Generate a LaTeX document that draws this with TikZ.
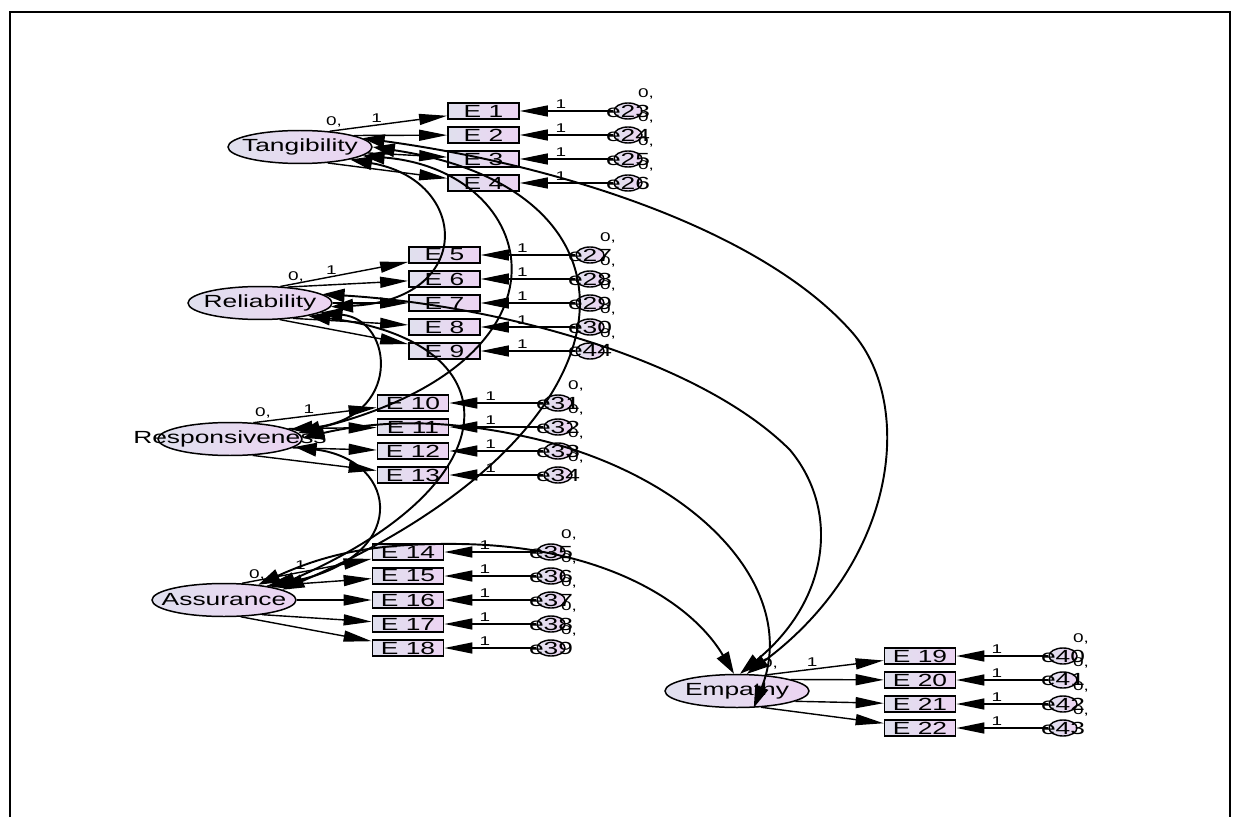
\documentclass[tikz,border=0pt]{standalone}
\usepackage{fontspec}
\setmainfont{Liberation Sans}[FakeStretch=1.5]
\usetikzlibrary{shapes.geometric}
\usetikzlibrary{arrows.meta}
\definecolor{amosL}{RGB}{224,224,238}
\definecolor{amosR}{RGB}{236,212,242}

\begin{document}
\begin{tikzpicture}[x=0.02cm, y=-0.02cm,
    ftxt/.style={font=\fontsize{10}{12}\selectfont, inner sep=0pt},
    fac/.style={ellipse, draw, line width=0.85pt, left color=amosL, right color=amosR, minimum width=2.88cm, minimum height=0.66cm, inner sep=0pt},
    ind/.style={rectangle, draw, line width=1pt, left color=amosL, right color=amosR, minimum width=1.42cm, minimum height=0.32cm, inner sep=0pt, font=\fontsize{10}{12}\selectfont},
    err/.style={ellipse, draw, line width=0.8pt, left color=amosL, right color=amosR, minimum width=0.56cm, minimum height=0.32cm, inner sep=0pt},
    lbl/.style={font=\fontsize{7.2}{8}\selectfont, inner sep=1pt},
    loading/.style={line width=0.8pt, -{Triangle[length=0.56cm,width=0.22cm]}},
    covar/.style={line width=1.1pt, {Triangle[length=0.44cm,width=0.27cm]}-{Triangle[length=0.44cm,width=0.27cm]}}]
    \useasboundingbox (0,0) rectangle (1239,817);
    \draw[line width=1pt] (10,817) -- (10,12) -- (1230,12) -- (1230,817);

    % Tangibility
    \node[fac, label={[ftxt]center:Tangibility}] (tang) at (300,147) {};
    \node[lbl] at ([shift={(34,-25)}]tang) {0,};
    \foreach \i/\e/\y in {1/23/111, 2/24/135, 3/25/159, 4/26/183}{
      \node[ind] (E\i) at (483.5,\y) {E \i};
      \node[err, label={[ftxt]center:e\e}] (e\e) at (628,\y) {};
      \node[lbl] at ([shift={(18,-17)}]e\e) {0,};
      \draw[loading] (e\e) -- node[lbl, above, pos=.56] {1} (E\i);
    }
    \draw[loading] (tang.28) -- node[lbl, above, pos=.4] {1} (E1);
    \foreach \i/\a in {2/12, 3/-5, 4/-30} \draw[loading] (tang.\a) -- (E\i);

    % Reliability
    \node[fac, label={[ftxt]center:Reliability}] (rel) at (260,303) {};
    \node[lbl] at ([shift={(36,-26)}]rel) {0,};
    \foreach \i/\e/\y in {5/27/255, 6/28/279, 7/29/303, 8/30/327, 9/44/351}{
      \node[ind] (E\i) at (444.5,\y) {E \i};
      \node[err, label={[ftxt]center:e\e}] (e\e) at (590,\y) {};
      \node[lbl] at ([shift={(18,-17)}]e\e) {0,};
      \draw[loading] (e\e) -- node[lbl, above, pos=.56] {1} (E\i);
    }
    \draw[loading] (rel.39) -- node[lbl, above, pos=.4] {1} (E5);
    \foreach \i/\a in {6/30, 7/0, 8/-25, 9/-40} \draw[loading] (rel.\a) -- (E\i);

    % Responsiveness
    \node[fac, label={[ftxt]center:Responsiveness}] (resp) at (230,439) {};
    \node[lbl] at ([shift={(33,-26)}]resp) {0,};
    \foreach \i/\e/\y in {10/31/403, 11/32/427, 12/33/451, 13/34/475}{
      \node[ind] (E\i) at (413,\y) {E \i};
      \node[err, label={[ftxt]center:e\e}] (e\e) at (558,\y) {};
      \node[lbl] at ([shift={(18,-17)}]e\e) {0,};
      \draw[loading] (e\e) -- node[lbl, above, pos=.56] {1} (E\i);
    }
    \draw[loading] (resp.35) -- node[lbl, above, pos=.45] {1} (E10);
    \foreach \i/\a in {11/10, 12/-8, 13/-36} \draw[loading] (resp.\a) -- (E\i);

    % Assurance
    \node[fac, label={[ftxt]center:Assurance}] (assu) at (224,600) {};
    \node[lbl] at ([shift={(33,-25)}]assu) {0,};
    \foreach \i/\e/\y in {14/35/552, 15/36/576, 16/37/600, 17/38/624, 18/39/648}{
      \node[ind] (E\i) at (408,\y) {E \i};
      \node[err, label={[ftxt]center:e\e}] (e\e) at (551,\y) {};
      \node[lbl] at ([shift={(18,-17)}]e\e) {0,};
      \draw[loading] (e\e) -- node[lbl, above, pos=.56] {1} (E\i);
    }
    \draw[loading] (assu.43) -- node[lbl, above, pos=.45] {1} (E14);
    \foreach \i/\a in {15/18, 16/0, 17/-21, 18/-45} \draw[loading] (assu.\a) -- (E\i);

    % Empathy
    \node[fac, label={[ftxt]center:Empathy}] (emp) at (737,691) {};
    \node[lbl] at ([shift={(33,-27)}]emp) {0,};
    \foreach \i/\e/\y in {19/40/656, 20/41/680, 21/42/704, 22/43/728}{
      \node[ind] (E\i) at (920,\y) {E \i};
      \node[err, label={[ftxt]center:e\e}] (e\e) at (1063,\y) {};
      \node[lbl] at ([shift={(18,-17)}]e\e) {0,};
      \draw[loading] (e\e) -- node[lbl, above, pos=.56] {1} (E\i);
    }
    \draw[loading] (emp.30) -- node[lbl, above, pos=.4] {1} (E19);
    \foreach \i/\a in {20/12, 21/-10, 22/-34} \draw[loading] (emp.\a) -- (E\i);

    % covariances
    \draw[covar] (tang.-14) .. controls (470,180) and (475,300) .. (rel.-3);
    \draw[covar] (tang.-8) .. controls (540,170) and (590,360) .. (resp.5);
    \draw[covar] (tang.0) .. controls (660,190) and (650,430) .. (assu.10);
    \draw[covar] (tang.8) .. controls (560,165) and (760,230) .. (850,330) .. controls (915,400) and (900,560) .. (emp.60);
    \draw[covar] (rel.-9) .. controls (395,320) and (402,420) .. (resp.9);
    \draw[covar] (rel.-15) .. controls (510,340) and (520,480) .. (assu.14);
    \draw[covar] (rel.8) .. controls (500,305) and (700,360) .. (790,450) .. controls (840,510) and (830,600) .. (emp.80);
    \draw[covar] (resp.-7) .. controls (400,460) and (412,560) .. (assu.18);
    \draw[covar] (resp.1) .. controls (380,420) and (450,418) .. (540,440) .. controls (700,480) and (800,590) .. (emp.-45);
    \draw[covar] (assu.24) .. controls (330,552) and (380,543) .. (460,544) .. controls (600,546) and (690,600) .. (emp.100);
\end{tikzpicture}
\end{document}
